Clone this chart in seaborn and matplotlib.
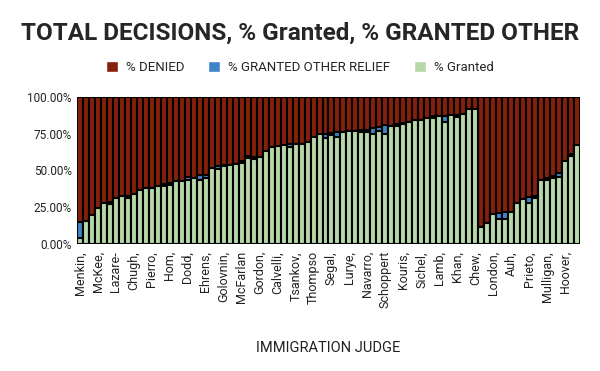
import numpy as np
import pandas as pd
import matplotlib
matplotlib.use("Agg")
import matplotlib.pyplot as plt
import seaborn as sns
from matplotlib.patches import Patch
from matplotlib.ticker import FuncFormatter

# ── data ────────────────────────────────────────────────
shown_names = ["Menkin,", "McKee,", "Lazare-", "Chugh,", "Pierro,", "Hom,", "Dodd,",
               "Ehrens,", "Golovnin,", "McFarlan", "Gordon,", "Calvelli,", "Tsankov,",
               "Thompso", "Segal,", "Lurye,", "Navarro,", "Schoppert", "Kouris,",
               "Sichel,", "Lamb,", "Khan,", "Chew,", "London,", "Auh,", "Prieto,",
               "Mulligan,", "Hoover,"]

granted = [4, 15.5, 20, 24.7, 28, 27.5, 31.5, 32.5, 31, 34.3, 36.8, 38, 38.3, 39.5,
           39.2, 40.1, 42.6, 42.6, 43.5, 45, 43.7, 45, 52, 51.2, 52.7, 53.4, 54.4, 55.3,
           58.6, 58, 59.3, 63.2, 65.8, 66.8, 67.5, 66.1, 67.8, 67.8, 69.5, 72.6, 74.5, 72.3,
           74.3, 72.9, 76, 77, 76.6, 75.8, 76.4, 75.1, 77, 75.1, 80, 80.3, 81.5, 82.8,
           84, 84.3, 85.4, 85.4, 87.3, 83.2, 88, 86.6, 88.5, 91.5, 91.6,
           11.5, 14.2, 20.6, 17.3, 17.3, 22, 28.1, 30.8, 28.1, 31.4, 43.8, 43.8, 44.7,
           45.8, 56.2, 60.1, 67.6]

other = [11.3, 0, 0, 0, 0, 1.3, 0, 0, 2, 0, 0, 0, 0, 0,
         1.4, 1.2, 0, 0, 1.9, 0, 3.5, 2.1, 0, 1.9, 1.3, 0, 0, 1.2,
         0.9, 1.4, 0, 0, 0, 0, 0, 1.9, 0, 0, 0, 0, 0, 2.7,
         1.3, 2.9, 0, 0, 0, 2, 1.4, 3.5, 2.5, 5.6, 0, 1.1, 0.8, 0,
         0, 0, 0, 1.9, 0, 4, 0, 1.4, 0, 0, 0,
         0, 0, 0, 4.1, 4.8, 0, 0, 0, 4.1, 1.4, 0, 1.4, 1.5,
         2.8, 0, 1.4, 0]

n = len(granted)
labels = [""] * n
for k, name in enumerate(shown_names):
    labels[k * 3] = name

df = pd.DataFrame({"pos": np.arange(n), "granted": granted, "other": other})
df["granted_other"] = df["granted"] + df["other"]
df["total"] = 100.0

c_denied = "#85200C"
c_other = "#3D85C6"
c_granted = "#B6D7A8"

# ── plot ───────────────────────────────────────────────
sns.set_style("white")
plt.rcParams["font.family"] = ["Roboto", "DejaVu Sans"]

fig = plt.figure(figsize=(6, 3.71), dpi=100)
ax = fig.add_axes([0.128, 0.342, 0.839, 0.397])

bar_kw = dict(width=1.0, edgecolor="black", linewidth=1.5, ax=ax)
sns.barplot(data=df, x="pos", y="total", color=c_denied, saturation=1, **bar_kw)
sns.barplot(data=df, x="pos", y="granted_other", color=c_other, saturation=1, **bar_kw)
sns.barplot(data=df, x="pos", y="granted", color=c_granted, saturation=1, **bar_kw)

ax.set_ylim(0, 100)
ax.set_xlim(-0.5, n - 0.5)
ax.set_yticks([0, 25, 50, 75, 100])
ax.yaxis.set_major_formatter(FuncFormatter(lambda v, p: f"{v:.2f}%"))
ax.set_xticks(np.arange(n))
ax.set_xticklabels(labels, rotation=90, fontsize=9, color="#222222")
ax.tick_params(axis="y", labelsize=8.5, colors="#222222", length=0)
ax.tick_params(axis="x", length=3, width=0.8, color="#333333", pad=2)
for s in ax.spines.values():
    s.set_visible(False)

ax.set_ylabel("")
ax.set_xlabel("IMMIGRATION JUDGE", fontsize=10.5, color="#222222")
ax.xaxis.set_label_coords(0.5, -0.66)

fig.suptitle("TOTAL DECISIONS, % Granted, % GRANTED OTHER", fontsize=17.5,
             fontweight="bold", y=0.94, x=0.5)

handles = [Patch(facecolor=c_denied, label="% DENIED"),
           Patch(facecolor=c_other, label="% GRANTED OTHER RELIEF"),
           Patch(facecolor=c_granted, label="% Granted")]
fig.legend(handles=handles, loc="center", bbox_to_anchor=(0.5, 0.817), ncol=3,
           frameon=False, fontsize=9.5, handlelength=0.9, handleheight=0.9,
           columnspacing=1.8, handletextpad=0.6)

fig.savefig("out.png", dpi=100)
